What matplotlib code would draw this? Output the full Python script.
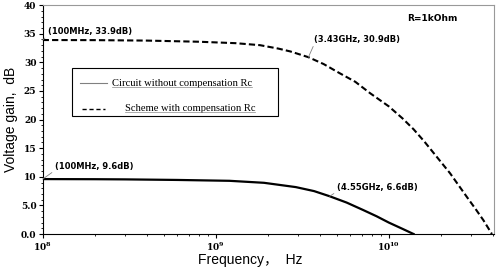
import matplotlib.pyplot as plt
from matplotlib.patches import Rectangle
from matplotlib.ticker import MultipleLocator

# curve values (Hz, dB)
freq_without = [1e8, 2e8, 3e8, 6e8, 1.2e9, 1.9e9, 2.9e9, 3.7e9, 4.55e9, 5.7e9, 7.1e9, 8.5e9, 1e10, 1.2e10, 1.39e10]
gain_without = [9.6, 9.58, 9.55, 9.45, 9.3, 8.95, 8.2, 7.5, 6.6, 5.5, 4.2, 3.1, 2.0, 0.9, 0.0]
freq_with = [1e8, 2e8, 4e8, 8e8, 1.3e9, 1.8e9, 2.3e9, 2.7e9, 3.43e9, 4.2e9, 5.2e9, 6.4e9, 7.8e9,
             1e10, 1.2e10, 1.39e10, 1.6e10, 1.81e10, 2.26e10, 2.82e10, 3.2e10, 3.52e10, 3.94e10]
gain_with = [33.9, 33.88, 33.8, 33.6, 33.35, 33.0, 32.4, 31.9, 30.9, 29.7, 28.1, 26.6, 24.6,
             22.3, 20.2, 18.3, 16.2, 14.2, 10.6, 6.5, 4.2, 2.4, 0.0]

labels = ['Circuit without compensation Rc', 'Scheme with compensation Rc']
notes = [(1e8, 33.9, '(100MHz, 33.9dB)', (5, 9)),
         (3.43e9, 30.9, '(3.43GHz, 30.9dB)', (6, 18)),
         (1e8, 9.6, '(100MHz, 9.6dB)', (12, 13)),
         (4.55e9, 6.6, '(4.55GHz, 6.6dB)', (7, 9))]

fig = plt.figure(figsize=(5.01, 2.69), dpi=100)
ax = fig.add_axes([0.0852, 0.130, 0.9008, 0.851])

ax.plot(freq_without, gain_without, color='black', lw=1.6)
ax.plot(freq_with, gain_with, color='black', lw=1.5, dashes=(3, 1.5))

ax.set_xscale('log')
ax.set_xlim(1e8, 4.05e10)
ax.set_ylim(0, 40)
ax.yaxis.set_major_locator(MultipleLocator(5))
ax.yaxis.set_minor_locator(MultipleLocator(1))
ax.yaxis.set_major_formatter(plt.FuncFormatter(lambda v, p: '%.1f' % v if v < 10 else '%d' % v))

for s in ['top', 'right']:
    ax.spines[s].set_color('#999999')
ax.tick_params(labelsize=6.5, length=3, width=0.8, pad=1.5)
ax.tick_params(which='minor', length=1.5)
for lab in ax.get_xticklabels() + ax.get_yticklabels():
    lab.set_fontweight('bold')
    lab.set_family('DejaVu Serif')

ax.set_xlabel('Frequency，  Hz', fontsize=10, family=['Liberation Sans', 'Noto Sans CJK SC'])
ax.set_ylabel('Voltage gain,  dB', fontsize=10, family='Liberation Sans')
ax.xaxis.set_label_coords(0.46, -0.085)
ax.yaxis.set_label_coords(-0.055, 0.5)

# annotations with short leader lines
for x, y, t, off in notes:
    ax.annotate(t, xy=(x, y), xytext=off, textcoords='offset pixels',
                fontsize=6, fontweight='bold', va='center', ha='left',
                arrowprops=dict(arrowstyle='-', color='gray', lw=0.6,
                                shrinkA=0, shrinkB=0, relpos=(0, 0)))

ax.text(0.807, 0.943, 'R=1kOhm', transform=ax.transAxes, fontsize=6.5,
        fontweight='bold', ha='left', va='center')

# legend box drawn by hand (gray handle for the solid line, as in the original)
ax.add_patch(Rectangle((0.065, 0.515), 0.456, 0.21, transform=ax.transAxes,
                       facecolor='white', edgecolor='black', lw=0.8, zorder=3))
ax.plot([0.083, 0.142], [0.659, 0.659], transform=ax.transAxes, color='gray', lw=0.8, zorder=4)
ax.plot([0.087, 0.137], [0.548, 0.548], transform=ax.transAxes, color='black', lw=1.0,
        dashes=(3, 2), zorder=4)
texts = []
for (x0, y0), lab in zip([(0.153, 0.659), (0.182, 0.548)], labels):
    texts.append(ax.text(x0, y0, lab, transform=ax.transAxes, fontsize=7.6,
                         family='Liberation Serif', va='center', ha='left', zorder=5))

# underline each legend text
fig.canvas.draw()
inv = ax.transAxes.inverted()
for t in texts:
    bb = t.get_window_extent()
    (x0, y0), (x1, y1) = inv.transform([[bb.x0, bb.y0], [bb.x1, bb.y1]])
    ax.plot([x0, x1], [y0 + 0.004, y0 + 0.004], transform=ax.transAxes, color='#888888',
            lw=0.5, zorder=5)

fig.savefig('out.png', dpi=100)
